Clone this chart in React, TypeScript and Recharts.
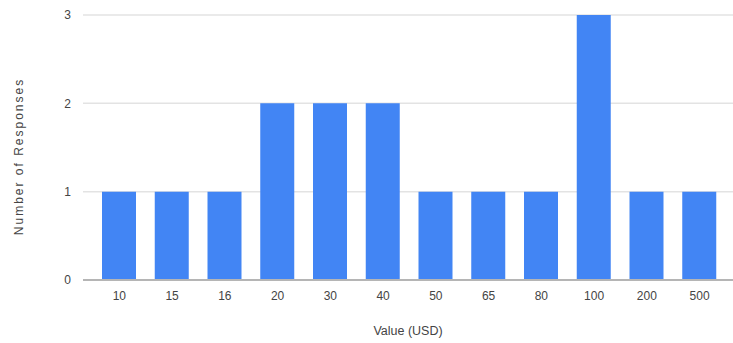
import { BarChart, Bar, XAxis, YAxis, CartesianGrid } from 'recharts';

const categories = ['10', '15', '16', '20', '30', '40', '50', '65', '80', '100', '200', '500'];
const responses = [1, 1, 1, 2, 2, 2, 1, 1, 1, 3, 1, 1];
const yTicks = [0, 1, 2, 3];

const data = categories.map((value, i) => ({ value, count: responses[i] }));

const textStyle = { fontFamily: 'Liberation Sans, Arial, sans-serif', fontSize: 12, fill: '#444' };

// rotated y title, a bit lower and more spread out than the default label
const YTitle = ({ viewBox }: any) => {
  const x = 19;
  const y = viewBox.y + viewBox.height / 2 + 9;
  return (
    <text
      x={x}
      y={y}
      transform={`rotate(-90, ${x}, ${y})`}
      textAnchor="middle"
      dominantBaseline="central"
      style={{ ...textStyle, letterSpacing: 2 }}
    >
      Number of Responses
    </text>
  );
};

export default function App() {
  return (
    <div style={{ position: 'absolute', left: 0, top: 0, background: '#fff' }}>
      <BarChart
        width={733}
        height={343}
        data={data}
        margin={{ top: 15, right: 0, bottom: 0, left: 0 }}
      >
        <CartesianGrid vertical={false} stroke="#e3e3e3" strokeWidth={1.5} />
        <XAxis
          dataKey="value"
          tick={textStyle}
          tickLine={false}
          tickSize={0}
          tickMargin={11}
          axisLine={{ stroke: '#b5b5b5', strokeWidth: 2 }}
          padding={{ left: 10, right: 7 }}
          height={63}
          label={{ value: 'Value (USD)', position: 'insideBottom', offset: 8, style: { ...textStyle, fontSize: 12.5 } }}
        />
        <YAxis
          ticks={yTicks}
          domain={[0, 3]}
          tick={textStyle}
          tickLine={false}
          axisLine={false}
          tickSize={0}
          tickMargin={12}
          width={83}
          label={<YTitle />}
        />
        <Bar dataKey="count" fill="#4285f4" barSize={34} isAnimationActive={false} />
      </BarChart>
    </div>
  );
}
